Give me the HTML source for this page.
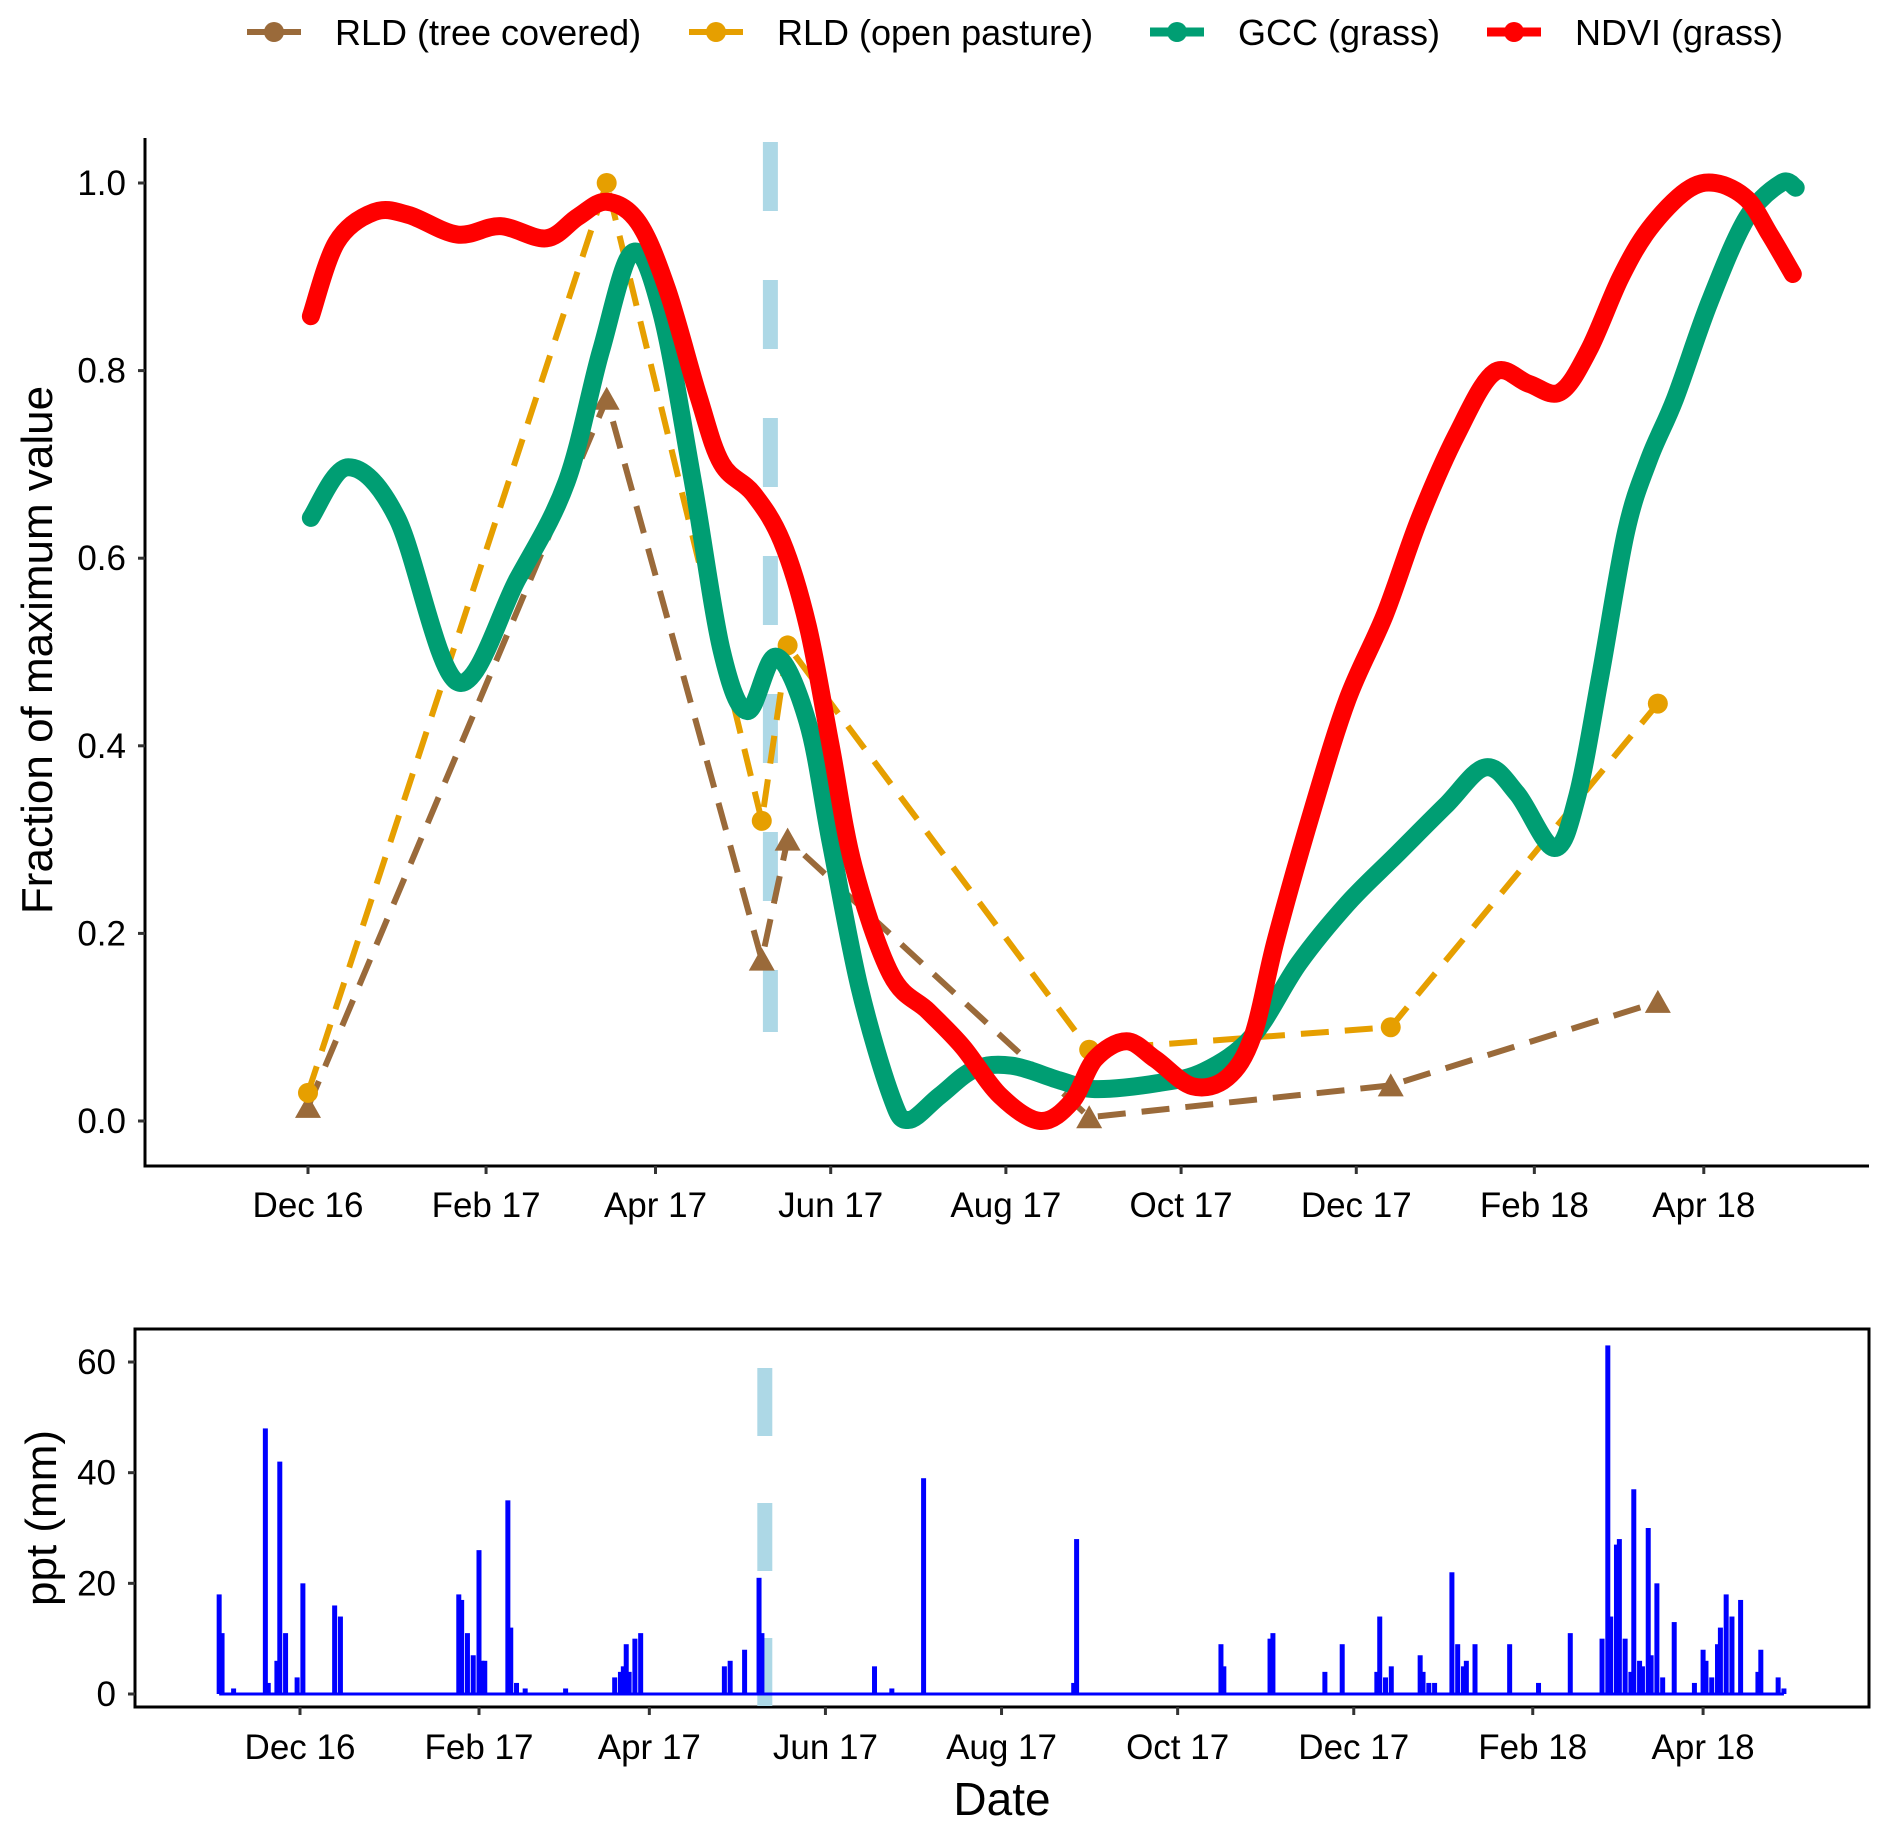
<!DOCTYPE html>
<html><head><meta charset="utf-8"><style>
body{margin:0;background:#fff}
svg text{font-family:"Liberation Sans",Arial,sans-serif;fill:#000}
</style></head><body>
<svg id="c" width="1879" height="1824" viewBox="0 0 1879 1824" xmlns="http://www.w3.org/2000/svg"></svg>
<script>
// ---- data (days since 1 Dec 2016) ----
const tickLabels=["Dec 16","Feb 17","Apr 17","Jun 17","Aug 17","Oct 17","Dec 17","Feb 18","Apr 18"];
const tickDays=[0,62,121,182,243,304,365,427,486];
const yTicks=[0,0.2,0.4,0.6,0.8,1.0];
const pptTicks=[0,20,40,60];
const treeDays=[0,104,158,167,272,377,470];
const treeVals=[0.015,0.77,0.172,0.30,0.004,0.038,0.127];
const openDays=[0,104,158,167,272,377,470];
const openVals=[0.03,1.0,0.32,0.507,0.076,0.10,0.445];
const gccDays=[1,14,31,52,73,90,102,113,123,134,144,153,163,174,182,192,203,209,220,232,245,262,274,295,312,329,345,362,379,396,410,421,434,442,450,459,467,476,488,501,513,518];
const gccVals=[0.643,0.697,0.643,0.468,0.578,0.681,0.821,0.926,0.862,0.682,0.502,0.437,0.495,0.425,0.297,0.143,0.027,0.001,0.027,0.055,0.059,0.043,0.034,0.040,0.053,0.091,0.168,0.232,0.284,0.336,0.377,0.349,0.291,0.347,0.475,0.629,0.706,0.770,0.873,0.963,1.0,0.995];
const ndviDays=[1,10,23,35,52,67,83,94,104,115,125,136,144,155,165,174,182,190,203,216,228,241,255,266,274,285,295,308,320,329,337,350,362,375,387,400,413,425,436,446,457,467,480,490,501,509,517];
const ndviVals=[0.858,0.937,0.969,0.966,0.945,0.954,0.941,0.964,0.980,0.958,0.887,0.772,0.701,0.669,0.618,0.528,0.400,0.271,0.156,0.117,0.079,0.027,0.0,0.021,0.066,0.085,0.066,0.037,0.046,0.091,0.193,0.334,0.450,0.540,0.642,0.732,0.798,0.786,0.777,0.822,0.899,0.951,0.992,1.0,0.983,0.945,0.903];
const pptDays=[-28,-27,-23,-12,-11,-8,-7,-5,-1,1,12,14,55,56,58,60,62,63,64,72,73,75,78,92,109,111,112,113,114,116,118,147,149,154,159,160,199,205,216,268,269,319,320,336,337,355,361,373,374,376,378,388,389,391,393,399,401,403,404,407,419,429,440,451,453,454,456,457,459,461,462,464,465,467,468,470,472,476,483,486,487,489,491,492,494,496,499,505,506,512,514];
const pptVals=[18,11,1,48,2,6,42,11,3,20,16,14,18,17,11,7,26,6,6,35,12,2,1,1,3,4,5,9,4,10,11,5,6,8,21,11,5,1,39,2,28,9,5,10,11,4,9,4,14,3,5,7,4,2,2,22,9,5,6,9,9,2,11,10,63,14,27,28,10,4,37,6,5,30,7,20,3,13,2,8,6,3,9,12,18,14,17,4,8,3,1];
const eventDay=161;

const NS="http://www.w3.org/2000/svg", svg=document.getElementById('c');
function el(t,a,p){const e=document.createElementNS(NS,t);for(const k in a)e.setAttribute(k,a[k]);(p||svg).appendChild(e);return e;}
const X=d=>308+d*2.872, Y=v=>1121-v*938;
const X2=d=>300+d*2.887, Y2=v=>1694-v*5.533;

let g=el('g',{});

el('path',{d:'M145 138 V1166 H1869',fill:'none',stroke:'#000','stroke-width':3},g);
yTicks.forEach(v=>{el('line',{x1:138,x2:145,y1:Y(v),y2:Y(v),stroke:'#333','stroke-width':3},g);
 const t=el('text',{x:126,y:Y(v)+12,'text-anchor':'end','font-size':35},g);t.textContent=v.toFixed(1);
 });
tickDays.forEach((d,i)=>{el('line',{x1:X(d),x2:X(d),y1:1166,y2:1174,stroke:'#333','stroke-width':3},g);
 const t=el('text',{x:X(d),y:1217,'text-anchor':'middle','font-size':35},g);t.textContent=tickLabels[i];
 });
let yt=el('text',{x:0,y:0,transform:'translate(52,650) rotate(-90)','text-anchor':'middle','font-size':44});
yt.textContent='Fraction of maximum value';


let ev=el('line',{x1:X(eventDay),x2:X(eventDay),y1:142,y2:1032,stroke:'#add8e6','stroke-width':15,'stroke-dasharray':'69 69'});


function smooth(xs,ys){let d='M'+xs[0]+' '+ys[0];
 for(let i=0;i<xs.length-1;i++){const x0=xs[Math.max(i-1,0)],y0=ys[Math.max(i-1,0)],x3=xs[Math.min(i+2,xs.length-1)],y3=ys[Math.min(i+2,xs.length-1)];
  d+=` C${xs[i]+(xs[i+1]-x0)/6} ${ys[i]+(ys[i+1]-y0)/6} ${xs[i+1]-(x3-xs[i])/6} ${ys[i+1]-(y3-ys[i])/6} ${xs[i+1]} ${ys[i+1]}`;}
 return d;}
function series(days,vals,color,name,marker){
 const s=el('g',{});
 el('polyline',{points:days.map((d,i)=>X(d)+','+Y(vals[i])).join(' '),fill:'none',stroke:color,'stroke-width':6,'stroke-dasharray':'28 16'},s);
 days.forEach((d,i)=>{let m;
  if(marker==='tri'){const x=X(d),y=Y(vals[i]);m=el('polygon',{points:`${x-13},${y+11} ${x+13},${y+11} ${x},${y-12}`,fill:color},s);}
  else m=el('circle',{cx:X(d),cy:Y(vals[i]),r:10,fill:color},s);
  });
}
series(treeDays,treeVals,'#9a6a3a','rld-tree-series','tri');
series(openDays,openVals,'#E69F00','rld-open-series','circ');
let gc=el('path',{d:smooth(gccDays.map(X),gccVals.map(Y)),fill:'none',stroke:'#009E73','stroke-width':18,'stroke-linecap':'round','stroke-linejoin':'round'});

let nd=el('path',{d:smooth(ndviDays.map(X),ndviVals.map(Y)),fill:'none',stroke:'#FF0000','stroke-width':18,'stroke-linecap':'round','stroke-linejoin':'round'});


const legNames=['RLD (tree covered)','RLD (open pasture)','GCC (grass)','NDVI (grass)'];
const legColors=['#9a6a3a','#E69F00','#009E73','#FF0000'];
const legX=[247,689,1150,1487];
legNames.forEach((n,i)=>{const lg=el('g',{});
 const w=i<2?6:9;
 el('line',{x1:legX[i],x2:legX[i]+54,y1:32,y2:32,stroke:legColors[i],'stroke-width':w},lg);
 el('circle',{cx:legX[i]+27,cy:32,r:10,fill:legColors[i]},lg);
 const t=el('text',{x:legX[i]+88,y:45,'font-size':36},lg);t.textContent=n;});

const b=el('g',{});
el('rect',{x:135,y:1329,width:1734,height:378,fill:'none',stroke:'#000','stroke-width':3},b);
pptTicks.forEach(v=>{el('line',{x1:128,x2:135,y1:Y2(v),y2:Y2(v),stroke:'#333','stroke-width':3},b);
 const t=el('text',{x:116,y:Y2(v)+12,'text-anchor':'end','font-size':35},b);t.textContent=v;
 });
tickDays.forEach((d,i)=>{el('line',{x1:X2(d),x2:X2(d),y1:1707,y2:1715,stroke:'#333','stroke-width':3},b);
 const t=el('text',{x:X2(d),y:1759,'text-anchor':'middle','font-size':35},b);t.textContent=tickLabels[i];
 });
let pl=el('text',{x:0,y:0,transform:'translate(56,1518) rotate(-90)','text-anchor':'middle','font-size':44});
pl.textContent='ppt (mm)';
let dt=el('text',{x:1002,y:1815,'text-anchor':'middle','font-size':46});
dt.textContent='Date';
let ev2=el('line',{x1:X2(eventDay),x2:X2(eventDay),y1:1368,y2:1707,stroke:'#add8e6','stroke-width':15,'stroke-dasharray':'68 67'});

let base=el('line',{x1:X2(pptDays[0]),x2:X2(pptDays[pptDays.length-1]),y1:Y2(0),y2:Y2(0),stroke:'#0000ff','stroke-width':3});

pptDays.forEach((d,i)=>{const r=el('rect',{x:X2(d)-2.5,y:Y2(pptVals[i]),width:5,height:pptVals[i]*5.533,fill:'#0000ff'});
 
 });
</script>
</body></html>
